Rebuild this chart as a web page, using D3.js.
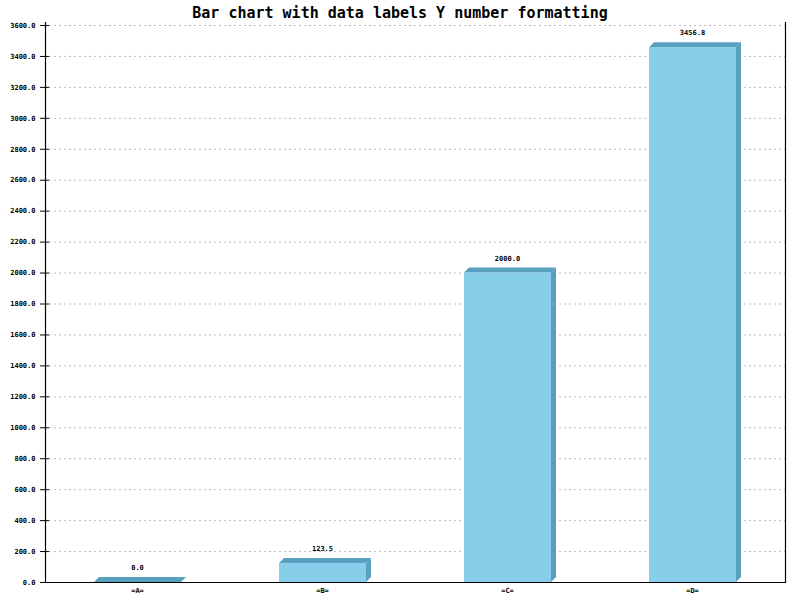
<!DOCTYPE html>
<html><head><meta charset="utf-8">
<script src="https://cdn.jsdelivr.net/npm/d3@7"></script>
<style>body{margin:0;background:#fff}svg{display:block}</style>
</head><body>
<svg id="c" width="800" height="600"></svg>
<script>
const categories = ["=A=", "=B=", "=C=", "=D="];
const values = [0.0, 123.5, 2000.0, 3456.8];
const yTicks = [0,200,400,600,800,1000,1200,1400,1600,1800,2000,2200,2400,2600,2800,3000,3200,3400,3600];
const title = "Bar chart with data labels Y number formatting";

const svg = d3.select("#c");
const L = 45, R = 785, T = 25, B = 582;
const font = "'DejaVu Sans Mono', monospace";
const x = d3.scaleBand().domain(categories).range([L, R]).paddingInner(0).paddingOuter(0);
const y = d3.scaleLinear().domain([0, 3600]).range([B, T]);
const fmt = d3.format(".1f");
const depth = 5;
const barW = 87;

// grid
svg.append("g").selectAll("line").data(yTicks.filter(d => d > 0)).join("line")
  .attr("x1", L + 4).attr("x2", R).attr("y1", d => y(d) + 0.5).attr("y2", d => y(d) + 0.5)
  .attr("stroke", "#bbb").attr("stroke-dasharray", "2,3");

// y axis
const yAxis = d3.axisLeft(y).tickValues(yTicks).tickFormat(fmt).tickSize(0).tickPadding(10);
const gy = svg.append("g").attr("transform", `translate(${L + 0.5},0)`).call(yAxis);
gy.select(".domain").remove();
gy.selectAll("text").attr("font-family", font).attr("font-size", 7).attr("font-weight", "bold").attr("fill", "#000");
svg.append("g").selectAll("line").data(yTicks).join("line")
  .attr("x1", L - 5).attr("x2", L + 4).attr("y1", d => y(d) + 0.5).attr("y2", d => y(d) + 0.5)
  .attr("stroke", "#000");

// bars
const bars = svg.append("g").selectAll("g").data(categories).join("g");
bars.each(function(c, i) {
  const g = d3.select(this);
  const cx = x(c) + x.bandwidth() / 2;
  const x0 = cx - barW / 2, x1 = cx + barW / 2;
  const yt = y(values[i]);
  g.append("path").attr("d", `M${x0},${yt}L${x0 + depth},${yt - depth}L${x1 + depth},${yt - depth}L${x1},${yt}Z`)
    .attr("fill", "#58a0bd");
  g.append("path").attr("d", `M${x1},${yt}L${x1 + depth},${yt - depth}L${x1 + depth},${B - depth}L${x1},${B}Z`)
    .attr("fill", "#58a0bd");
  g.append("rect").attr("x", x0).attr("y", yt).attr("width", barW).attr("height", B - yt)
    .attr("fill", "#87ceeb");
  g.append("text").attr("x", cx).attr("y", yt - 12).attr("text-anchor", "middle")
    .attr("font-family", font).attr("font-size", 7).attr("font-weight", "bold").attr("fill", "#000").text(fmt(values[i]));
});

// x axis
const xAxis = d3.axisBottom(x).tickSize(0).tickPadding(6);
const gx = svg.append("g").attr("transform", `translate(0,${B + 0.5})`).call(xAxis);
gx.select(".domain").remove();
gx.selectAll("text").attr("font-family", font).attr("font-size", 7).attr("font-weight", "bold").attr("fill", "#000");

// axes lines
svg.append("line").attr("x1", L + 0.5).attr("x2", L + 0.5).attr("y1", T - 3).attr("y2", B + 1).attr("stroke", "#000").attr("stroke-width", 1.2);
svg.append("line").attr("x1", L).attr("x2", R + 1).attr("y1", B + 0.5).attr("y2", B + 0.5).attr("stroke", "#000").attr("stroke-width", 1.2);
svg.append("line").attr("x1", R + 0.5).attr("x2", R + 0.5).attr("y1", T - 3).attr("y2", B + 1).attr("stroke", "#000").attr("stroke-width", 1.2);

// title
svg.append("text").attr("x", 400).attr("y", 18).attr("text-anchor", "middle")
  .attr("font-family", font).attr("font-weight", "bold").attr("font-size", 15).attr("fill", "#000").text(title);
</script>
</body></html>
